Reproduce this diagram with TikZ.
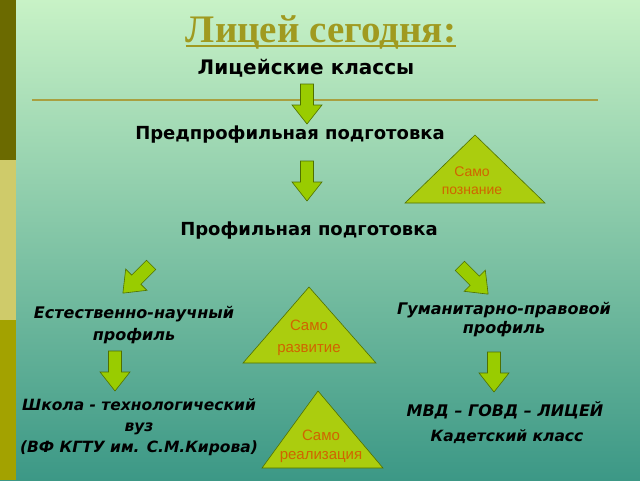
\documentclass[tikz,border=0pt]{standalone}
\usepackage{fontspec}
\setmainfont{Liberation Serif}
\newfontfamily\versans{DejaVu Sans}
\newfontfamily\arsans{Liberation Sans}
\usetikzlibrary{positioning}
\definecolor{bgtop}{HTML}{C8F2C6}
\definecolor{bgmid}{HTML}{8CCDAA}
\definecolor{bgbot}{HTML}{3C9886}
\definecolor{bardark}{HTML}{6B6A00}
\definecolor{barlight}{HTML}{CFCB6A}
\definecolor{barolive}{HTML}{A3A200}
\definecolor{titleolive}{HTML}{A09A20}
\definecolor{ruleolive}{HTML}{A9A040}
\definecolor{limefill}{HTML}{99CC00}
\definecolor{limeline}{HTML}{4F7000}
\definecolor{trifill}{HTML}{ABCD0E}
\definecolor{samotext}{HTML}{D06400}
\tikzset{
  heading/.style={font=\versans\bfseries\fontsize{18}{22}\selectfont},
  branch/.style={font=\versans\bfseries\itshape\fontsize{16}{22}\selectfont, align=center},
  tritext/.style={font=\arsans\fontsize{15}{22}\selectfont, text=samotext, align=center},
  tri/.style={draw=limeline, fill=trifill, line width=0.6pt},
  pics/blockarrow/.style={code={
    \draw[draw=limeline, fill=limefill, line width=0.6pt]
      (-6.5,-20) -- (6.5,-20) -- (6.5,1) -- (15,1) -- (0,20)
      -- (-15,1) -- (-6.5,1) -- cycle;}}
}
\begin{document}
\begin{tikzpicture}[x=1pt,y=-1pt]
  \useasboundingbox (0,0) rectangle (640,480);
  % background and side bar
  \shade[top color=bgtop, middle color=bgmid, bottom color=bgbot] (0,0) rectangle (640,480);
  \fill[bardark] (0,0) rectangle (16,160);
  \fill[barlight] (0,160) rectangle (16,320);
  \fill[barolive] (0,320) rectangle (16,480);
  % title
  \node[font=\bfseries\fontsize{39}{42}\selectfont, text=titleolive, inner sep=0pt, anchor=base] (title) at (321,42) {Лицей сегодня:};
  \draw[titleolive, line width=2.4pt] ([yshift=-4pt]title.base west) -- ([yshift=-4pt]title.base east);
  \coordinate (ruleL) at (32,100);
  \coordinate (ruleR) at (598,100);
  \draw[ruleolive, line width=1.2pt] (ruleL) -- (ruleR);
  % main chain
  \node[heading, font=\versans\bfseries\fontsize{20}{24}\selectfont] (classes) at (306,68) {Лицейские классы};
  \node[heading] (prepro) at (290,135) {Предпрофильная подготовка};
  \node[heading] (pro) at (309,231) {Профильная подготовка};
  \pic at (307,104) {blockarrow};
  \pic at (307,181) {blockarrow};
  % branches
  \pic[rotate=-45] at (137,279) {blockarrow};
  \pic[rotate=45] at (474,280) {blockarrow};
  \node[branch] (nature) at (134,325) {Естественно-научный\\профиль};
  \node[branch, font=\versans\bfseries\itshape\fontsize{16}{19}\selectfont] (human) at (504,320) {Гуманитарно-правовой\\профиль};
  \pic at (115,371) {blockarrow};
  \pic at (494,372) {blockarrow};
  \node[branch, font=\versans\bfseries\itshape\fontsize{15.5}{21}\selectfont] (school) at (139,427) {Школа - технологический\\вуз\\(ВФ КГТУ им. С.М.Кирова)};
  \node[branch] (mvd) at (505,410) {МВД – ГОВД – ЛИЦЕЙ};
  \node[branch, font=\versans\bfseries\itshape\fontsize{15.5}{18}\selectfont] (cadet) at (507,437) {Кадетский класс};
  % triangles
  \draw[tri] (475,135) -- (545,203) -- (405,203) -- cycle;
  \node[tritext, font=\arsans\fontsize{14}{18}\selectfont] (know) at (472,181) {Само\\познание};
  \draw[tri] (309,287) -- (376,363) -- (243,363) -- cycle;
  \node[tritext] (develop) at (309,338) {Само\\развитие};
  \draw[tri] (318,391) -- (383,468) -- (262,468) -- cycle;
  \node[tritext, font=\arsans\fontsize{15}{19}\selectfont] (realise) at (321,446) {Само\\реализация};
\end{tikzpicture}
\end{document}
